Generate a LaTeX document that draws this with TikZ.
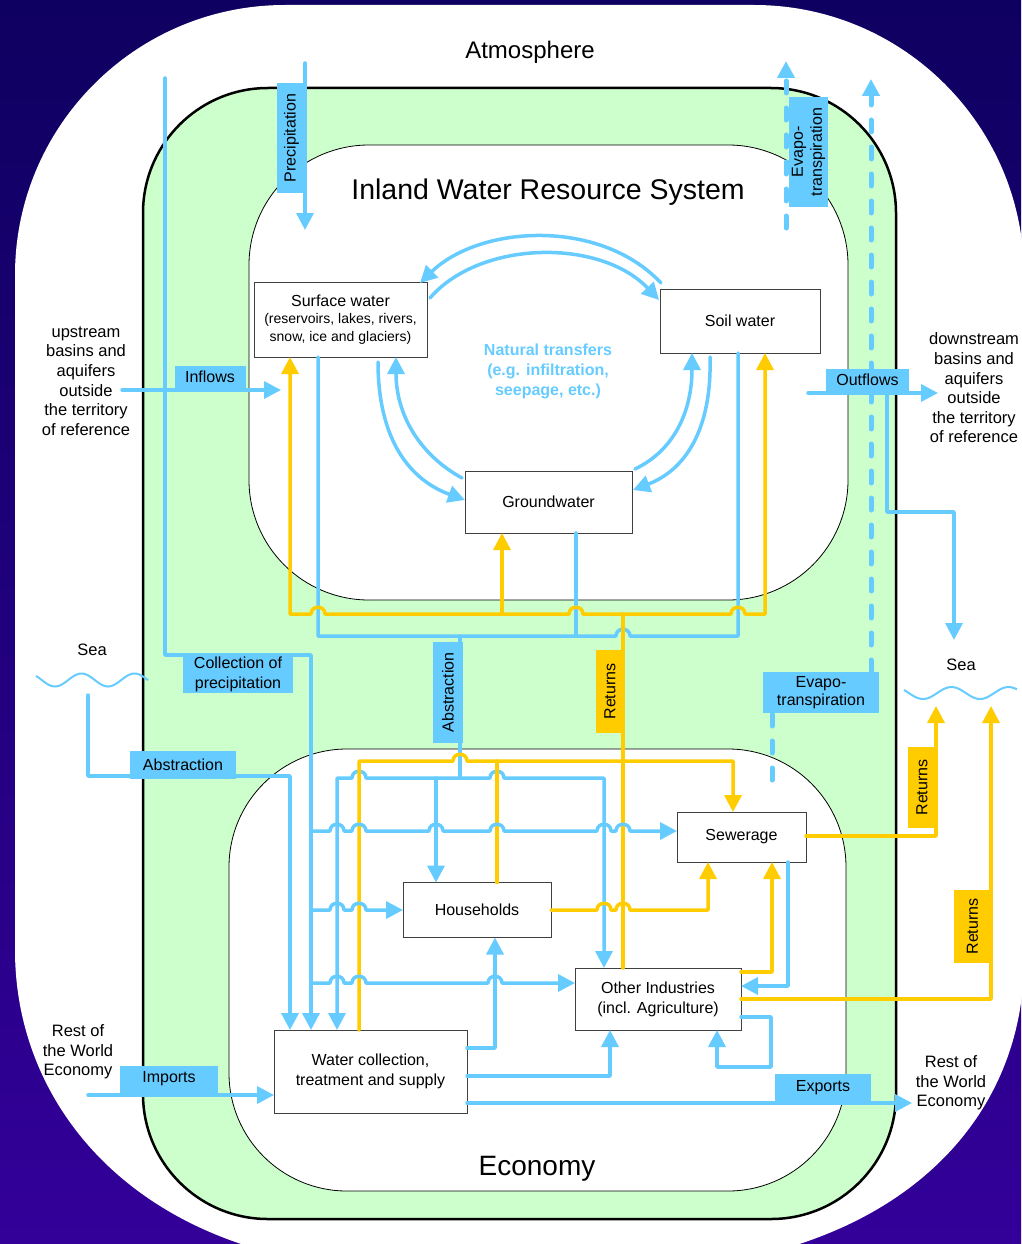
\documentclass[tikz,border=0pt]{standalone}
\usepackage{fontspec}
\setmainfont{Liberation Sans}
\usetikzlibrary{arrows.meta}
\definecolor{bl}{HTML}{66CCFF}
\definecolor{yl}{HTML}{FFCC00}
\definecolor{gr}{HTML}{CCFFCC}
\definecolor{navyT}{RGB}{14,0,96}
\definecolor{navyB}{RGB}{51,0,153}
\newcommand\jmpx[2]{-- ({#1-7},#2) .. controls ({#1-7},{#2-9}) and ({#1+7},{#2-9}) .. ({#1+7},#2)}
\tikzset{
  fl/.style={draw=bl, line width=3.5pt, line cap=round, line join=round},
  yf/.style={draw=yl, line width=3.5pt, line cap=round, line join=round},
  ar/.style={-{Triangle[width=17pt,length=17pt]}},
  ba/.style={{Triangle[width=17pt,length=17pt]}-{Triangle[width=17pt,length=17pt]}},
  dsh/.style={draw=bl, line width=5pt, dash pattern=on 12pt off 15pt, line cap=round},
  box/.style={draw=black!75, line width=1pt, fill=white, inner sep=0pt, outer sep=0pt, align=center, font=\fontsize{16}{20}\selectfont},
  lbl/.style={fill=bl, inner sep=0pt, outer sep=0pt, align=center, font=\fontsize{16}{19}\selectfont},
  ylbl/.style={lbl, fill=yl},
  txt/.style={align=center, font=\fontsize{16.5}{19.6}\selectfont},
}
\begin{document}
\begin{tikzpicture}[x=1pt,y=-1pt]
\useasboundingbox (0,0) rectangle (1021,1244);
% background
\fill[top color=navyT, bottom color=navyB] (0,0) rectangle (1021,1244);
% atmosphere
\fill[white] (15,275) .. controls (15,126) and (136,5) .. (285,5) -- (754,5)
  .. controls (903,5) and (1024,126) .. (1024,275) -- (1024,960)
  .. controls (1024,1100) and (930,1215) .. (760,1255) -- (280,1255)
  .. controls (110,1215) and (15,1090) .. (15,950) -- cycle;
% green band
\draw[fill=gr, line width=2.5pt, rounded corners=125pt] (143,88) rectangle (896,1219);
\draw[fill=white, line width=0.8pt, rounded corners=120pt] (249,145) rectangle (848,600);
\draw[fill=white, line width=0.8pt, rounded corners=118pt] (229,749) rectangle (846,1191);

% titles
\node[font=\fontsize{24}{28}\selectfont] (atm) at (530,52) {Atmosphere};
\node[font=\fontsize{28.5}{32}\selectfont] (iwrs) at (548,192) {Inland Water Resource System};
\node[font=\fontsize{28}{32}\selectfont] (eco) at (537,1169) {Economy};
\node[align=center, text=bl, font=\bfseries\fontsize{16}{20}\selectfont] (nat) at (548,371) {Natural transfers\\(e.g. infiltration,\\seepage, etc.)};
\node[txt] (up) at (86,381) {upstream\\basins and\\aquifers\\outside\\the territory\\of reference};
\node[txt] (down) at (974,388) {downstream\\basins and\\aquifers\\outside\\the territory\\of reference};
\node[txt] (seaL) at (92,650) {Sea};
\node[txt] (seaR) at (961,665) {Sea};
\node[txt] (rowL) at (78,1052) {Rest of\\the World\\Economy};
\node[txt] (rowR) at (951,1083) {Rest of\\the World\\Economy};

% boxes
\node[box, minimum width=173pt, minimum height=75pt, font=\fontsize{14}{17.5}\selectfont] (sw) at (340.5,319.5)
  {{\fontsize{16}{18}\selectfont Surface water}\\(reservoirs, lakes, rivers,\\snow, ice and glaciers)};
\node[box, minimum width=160pt, minimum height=64pt] (soil) at (740,321) {Soil water};
\node[box, minimum width=167pt, minimum height=62pt] (gw) at (548.5,502) {Groundwater};
\node[box, minimum width=129pt, minimum height=50pt] (sew) at (741.5,837) {Sewerage};
\node[box, minimum width=148pt, minimum height=55pt] (hh) at (477,910) {Households};
\node[box, minimum width=166pt, minimum height=62pt] (oi) at (658,999) {Other Industries\\(incl. Agriculture)};
\node[box, minimum width=193pt, minimum height=83pt] (wc) at (370.5,1071.5) {Water collection,\\treatment and supply};

% free ends
\coordinate (precA) at (305,63);
\coordinate (precB) at (305,230);
\coordinate (colA) at (165,78);
\coordinate (inA) at (122,390);
\coordinate (inB) at (281,390);
\coordinate (outA) at (808,393);
\coordinate (outB) at (938,393);
\coordinate (outSea) at (954,640);
\coordinate (seaAbs) at (88,695);
\coordinate (impA) at (88,1095);
\coordinate (expB) at (912,1103);
\coordinate (seaR1) at (936,706);
\coordinate (seaR2) at (991,706);
\coordinate (ev1A) at (786,228);
\coordinate (ev1B) at (786,61);
\coordinate (ev2A) at (772,780);
\coordinate (ev3B) at (871,79);

% waves
\draw[bl, line width=2pt] plot[domain=36:148, samples=60, smooth] (\x,{680+6.5*cos((\x-55)*6.7925)});
\draw[bl, line width=2pt] plot[domain=904:1017, samples=60, smooth] (\x,{693+6*cos((\x-923)*6.3158)});

% precipitation, collection, inflows
\draw[fl,ar] (precA) -- (precB);
\draw[fl,ar] (colA) -- (165,655) -- (311,655) -- (311,0 |- wc.north);
\draw[fl,ar] (inA) -- (inB);

% natural transfers
\draw[fl,ar] (661,283) .. controls (600,218) and (480,225) .. (420,283);
\draw[fl,ar] (430,298) .. controls (480,240) and (600,238) .. (659,300);
\draw[fl,ar] (378,362) .. controls (378,440) and (410,480) .. (465,500);
\draw[fl,ar] (462,478) .. controls (420,455) and (396,415) .. (396,0 |- sw.south);
\draw[fl,ar] (710,357) .. controls (712,430) and (685,470) .. (633,490);
\draw[fl,ar] (635,469) .. controls (675,450) and (692,410) .. (692,0 |- soil.south);

% abstraction network (inland)
\draw[fl] (318,0 |- sw.south) -- (318,636) \jmpx{623}{636} -- (738,636) -- (738,0 |- soil.south);
\draw[fl] (576,0 |- gw.south) -- (576,636);
\draw[fl] (460,636) -- (460,778);

% returns to inland water
\draw[yf,ba] (290,0 |- sw.south) -- (290,614) \jmpx{318}{614} \jmpx{576}{614} \jmpx{738}{614} -- (765,614) -- (765,0 |- soil.south);
\draw[yf,ar] (502,614) -- (502,0 |- gw.south);
\draw[yf] (623,614) -- (623,0 |- oi.north);

% abstraction from sea
\draw[fl,ar] (seaAbs) -- (88,776) -- (290,776) -- (290,0 |- wc.north);

% distribution of abstraction
\draw[fl,ba] (337,0 |- wc.north) -- (337,778) \jmpx{359}{778} \jmpx{497}{778} -- (604,778) -- (604,0 |- oi.north);
\draw[fl,ar] (436,778) -- (436,0 |- hh.north);

% yellow to sewerage
\draw[yf,ar] (359,0 |- wc.north) -- (359,761) \jmpx{460}{761} -- (733,761) -- (733,0 |- sew.north);
\draw[yf] (497,0 |- hh.north) -- (497,761);

% horizontals from collection line
\draw[fl,ar] (311,831) \jmpx{337}{831} \jmpx{359}{831} \jmpx{436}{831} \jmpx{497}{831} \jmpx{604}{831} \jmpx{623}{831} -- (sew.west |- 0,831);
\draw[fl,ar] (311,910) \jmpx{337}{910} \jmpx{359}{910} -- (hh.west);
\draw[fl,ar] (311,983) \jmpx{337}{983} \jmpx{359}{983} \jmpx{495}{983} -- (oi.west |- 0,983);

% households to sewerage
\draw[yf,ar] (hh.east) \jmpx{604}{910} \jmpx{623}{910} -- (708,910) -- (708,0 |- sew.south);

% water supply
\draw[fl,ar] (wc.east |- 0,1048) -- (495,1048) -- (495,0 |- hh.south);
\draw[fl,ar] (wc.east |- 0,1076) -- (610,1076) -- (610,0 |- oi.south);
\draw[fl,ar] (wc.east |- 0,1103) -- (expB);
\draw[fl,ar] (impA) -- (wc.west |- 0,1095);

% other industries loops
\draw[fl,ar] (oi.east |- 0,1017) -- (771,1017) -- (771,1067) -- (717,1067) -- (717,0 |- oi.south);
\draw[fl,ar] (788,0 |- sew.south) -- (788,986) -- (oi.east |- 0,986);
\draw[yf,ar] (oi.east |- 0,972) -- (772,972) -- (772,0 |- sew.south);

% returns to sea
\draw[yf,ar] (sew.east |- 0,836) -- (936,836) -- (seaR1);
\draw[yf,ar] (oi.east |- 0,999) -- (991,999) -- (seaR2);

% outflows
\draw[fl,ar] (outA) -- (outB);
\draw[fl,ar] (887,393) -- (887,512) -- (954,512) -- (outSea);

% evapotranspiration
\draw[dsh,ar] (ev1A) -- (ev1B);
\draw[dsh] (ev2A) -- (772,713);
\draw[dsh,ar] (871,672) -- (ev3B);

% labels
\node[lbl, rotate=90, minimum width=110pt, minimum height=29pt] (lprec) at (291.5,138) {Precipitation};
\node[lbl, rotate=90, minimum width=110pt, minimum height=39pt] (levap1) at (808.5,152) {Evapo-\\transpiration};
\node[lbl, minimum width=71pt, minimum height=22pt] (linf) at (210,377) {Inflows};
\node[lbl, minimum width=83pt, minimum height=22pt] (lout) at (867.5,380) {Outflows};
\node[lbl, minimum width=110pt, minimum height=36pt, font=\fontsize{16}{20}\selectfont] (lcol) at (238,674.5) {Collection of\\precipitation};
\node[lbl, rotate=90, minimum width=101pt, minimum height=30pt] (labs1) at (448,692.5) {Abstraction};
\node[ylbl, rotate=90, minimum width=83pt, minimum height=28pt] (lret1) at (610,691.5) {Returns};
\node[lbl, minimum width=116pt, minimum height=41pt, font=\fontsize{16}{18}\selectfont] (levap2) at (821,692.5) {Evapo-\\transpiration};
\node[lbl, minimum width=106pt, minimum height=28pt] (labs2) at (183,765) {Abstraction};
\node[ylbl, rotate=90, minimum width=81pt, minimum height=28pt] (lret2) at (922,787.5) {Returns};
\node[ylbl, rotate=90, minimum width=73pt, minimum height=37pt] (lret3) at (972.5,926.5) {Returns};
\node[lbl, minimum width=98pt, minimum height=27pt] (limp) at (169,1079) {Imports};
\node[lbl, minimum width=96pt, minimum height=27pt] (lexp) at (823,1087.5) {Exports};
\end{tikzpicture}
\end{document}
